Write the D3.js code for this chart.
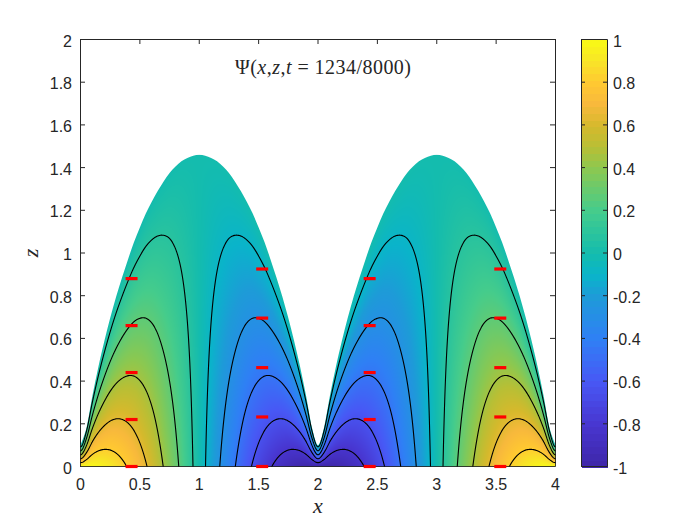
<!DOCTYPE html>
<html>
<head>
<meta charset="utf-8">
<script src="https://cdn.jsdelivr.net/npm/d3@7"></script>
<style>
  body { margin: 0; background: #fff; }
  text { fill: #262626; }
  .tick text { font-family: "Liberation Sans", sans-serif; font-size: 16px; }
  .axis path, .axis line { stroke: #262626; stroke-width: 1px; }
</style>
</head>
<body>
<svg id="chart" width="700" height="525"></svg>
<script>
// tick labels
const xTicks = [0, 0.5, 1, 1.5, 2, 2.5, 3, 3.5, 4]
const zTicks = [0, 0.2, 0.4, 0.6, 0.8, 1, 1.2, 1.4, 1.6, 1.8, 2]
const colorTicks = [-1, -0.8, -0.6, -0.4, -0.2, 0, 0.2, 0.4, 0.6, 0.8, 1]

// colormap
const colorStops = [-1, -0.8, -0.6, -0.4, -0.2, -0.1, 0, 0.1, 0.2, 0.4, 0.5, 0.6, 0.7, 0.8, 0.9, 1]
const colorValues = ['#3e26a8', '#4836d0', '#4858f5', '#2f80f5', '#1e9bd8', '#0ab4ca', '#14bcae', '#2cc49c', '#45cc8c', '#8cc850', '#b8bf35', '#d6b92c', '#f8b93c', '#ffc832', '#f8e428', '#f9fb15']

// top of the domain, z at x = 0, 0.05, ... 4
const surfaceZ = [
  0.10, 0.18, 0.33, 0.465, 0.585, 0.695, 0.795, 0.885, 0.97, 1.05, 1.12, 1.185, 1.24, 1.29, 1.335, 1.375, 1.405, 1.43, 1.445, 1.455,
  1.46, 1.455, 1.445, 1.43, 1.405, 1.375, 1.335, 1.29, 1.24, 1.185, 1.12, 1.05, 0.97, 0.885, 0.795, 0.695, 0.585, 0.465, 0.33, 0.18,
  0.10, 0.18, 0.33, 0.465, 0.585, 0.695, 0.795, 0.885, 0.97, 1.05, 1.12, 1.185, 1.24, 1.29, 1.335, 1.375, 1.405, 1.43, 1.445, 1.455,
  1.46, 1.455, 1.445, 1.43, 1.405, 1.375, 1.335, 1.29, 1.24, 1.185, 1.12, 1.05, 0.97, 0.885, 0.795, 0.695, 0.585, 0.465, 0.33, 0.18,
  0.10
]

// field values at x = 0, 0.1, ... 4, on the floor, half way up and at the surface
const psiFloor = [
  1, 0.99, 0.95, 0.89, 0.81, 0.71, 0.59, 0.45, 0.31, 0.16, 0,
  -0.16, -0.31, -0.45, -0.59, -0.71, -0.81, -0.89, -0.95, -0.99, -1,
  -0.99, -0.95, -0.89, -0.81, -0.71, -0.59, -0.45, -0.31, -0.16, 0,
  0.16, 0.31, 0.45, 0.59, 0.71, 0.81, 0.89, 0.95, 0.99, 1
]
const psiMiddle = [
  0.5, 0.495, 0.475, 0.445, 0.405, 0.355, 0.295, 0.225, 0.155, 0.08, 0,
  -0.08, -0.155, -0.225, -0.295, -0.355, -0.405, -0.445, -0.475, -0.495, -0.5,
  -0.495, -0.475, -0.445, -0.405, -0.355, -0.295, -0.225, -0.155, -0.08, 0,
  0.08, 0.155, 0.225, 0.295, 0.355, 0.405, 0.445, 0.475, 0.495, 0.5
]
const psiSurface = [
  0, 0, 0, 0, 0, 0, 0, 0, 0, 0, 0,
  0, 0, 0, 0, 0, 0, 0, 0, 0, 0,
  0, 0, 0, 0, 0, 0, 0, 0, 0, 0,
  0, 0, 0, 0, 0, 0, 0, 0, 0, 0
]
const contourLevels = [0.085, 0.27, 0.455, 0.64, 0.82]

// red markers
const markerColumns = [0.43, 1.53, 2.435, 3.535]
const markerRowsA = [0.88, 0.66, 0.44, 0.22, 0]
const markerRowsB = [0.925, 0.695, 0.463, 0.232, 0]

const svg = d3.select('#chart')
const x = d3.scaleLinear().domain([0, 4]).range([80, 555])
const y = d3.scaleLinear().domain([0, 2]).range([466, 39])
const color = d3.scaleLinear().domain(colorStops).range(colorValues)

// catmull-rom through a table with uniform spacing, reflected at both ends
function sampleTable(table, step, xv) {
  const last = table.length - 1
  const at = i => table[i < 0 ? -i : i > last ? 2 * last - i : i]
  const pos = Math.max(0, Math.min(last - 1e-9, xv / step))
  const i = Math.floor(pos), t = pos - i
  const a = at(i - 1), b = at(i), c = at(i + 1), d = at(i + 2)
  return 0.5 * (2 * b + (c - a) * t + (2 * a - 5 * b + 4 * c - d) * t * t + (3 * b - a - 3 * c + d) * t * t * t)
}

function psiAt(xv, zv) {
  if (xv < 0) xv = -xv
  if (xv > 4) xv = 8 - xv
  const s = zv / sampleTable(surfaceZ, 0.05, xv)
  const f = sampleTable(psiFloor, 0.1, xv)
  const m = sampleTable(psiMiddle, 0.1, xv)
  const t = sampleTable(psiSurface, 0.1, xv)
  if (s >= 1) return t
  if (s >= 0.5) return m + (t - m) * (s - 0.5) * 2
  return f + (m - f) * s * 2 // also runs on below the floor, for the contour grid
}

// axes go under the field, like the figure
function axis(gen, dx, dy, labels) {
  const g = svg.append('g').attr('class', 'axis').attr('transform', `translate(${dx},${dy})`).call(gen)
  if (!labels) g.selectAll('text').remove()
  return g
}
axis(d3.axisLeft(y).tickValues(zTicks).tickFormat(String).tickSizeInner(-5).tickSizeOuter(0).tickPadding(8), 80, 0, true)
  .selectAll('text').attr('dy', '0.44em')
axis(d3.axisRight(y).tickValues(zTicks).tickSizeInner(-5).tickSizeOuter(0), 555, 0, false)
axis(d3.axisTop(x).tickValues(xTicks).tickSizeInner(-5).tickSizeOuter(0), 0, 39, false)
axis(d3.axisBottom(x).tickValues(xTicks).tickFormat(String).tickSizeInner(-5).tickSizeOuter(0).tickPadding(13), 0, 466, true)

const plot = svg.append('g').attr('transform', 'translate(0.5,0.5)')

// field painted to a canvas, then masked with the surface curve
const imgW = x(4) - x(0), imgH = y(0) - y(2)
const canvas = document.createElement('canvas')
canvas.width = imgW
canvas.height = imgH
const ctx = canvas.getContext('2d')
const img = ctx.createImageData(imgW, imgH)
for (let j = 0; j < imgH; j++) {
  const zv = y.invert(y(2) + j + 0.5)
  for (let i = 0; i < imgW; i++) {
    const c = d3.rgb(color(psiAt(x.invert(x(0) + i + 0.5), zv)))
    const k = (j * imgW + i) * 4
    img.data[k] = c.r; img.data[k + 1] = c.g; img.data[k + 2] = c.b; img.data[k + 3] = 255
  }
}
ctx.putImageData(img, 0, 0)

const surfaceArea = d3.area()
  .x((d, i) => x(i * 0.05))
  .y0(y(0))
  .y1(d => y(d))
  .curve(d3.curveCatmullRom.alpha(0))
svg.append('clipPath').attr('id', 'surface-clip').append('path').attr('d', surfaceArea(surfaceZ))
svg.append('clipPath').attr('id', 'axes-clip').append('rect')
  .attr('x', x(0)).attr('y', y(2)).attr('width', imgW).attr('height', imgH)

plot.append('image')
  .attr('href', canvas.toDataURL())
  .attr('x', x(0)).attr('y', y(2)).attr('width', imgW).attr('height', imgH)
  .attr('clip-path', 'url(#surface-clip)')

// contour lines on a one pixel grid that runs a little past the axes
const gridPad = 12, gridTop = 1.6
const gridW = imgW + 2 * gridPad
const gridH = Math.round(y(0) - y(gridTop)) + gridPad
const gridPsi = new Float64Array(gridW * gridH)
for (let j = 0; j < gridH; j++) {
  const zv = y.invert(y(gridTop) + j)
  for (let i = 0; i < gridW; i++) gridPsi[j * gridW + i] = psiAt(x.invert(x(0) - gridPad + i), zv)
}
const gridPath = d3.geoPath(d3.geoTransform({
  point(px, py) { this.stream.point(x(0) - gridPad + px - 0.5, y(gridTop) + py - 0.5) }
}))
const contourGen = d3.contours().size([gridW, gridH]).thresholds(contourLevels)
const lines = plot.append('g').attr('clip-path', 'url(#axes-clip)')
  .attr('fill', 'none').attr('stroke', '#000').attr('stroke-width', 1.1)
lines.selectAll('path.pos').data(contourGen(gridPsi)).join('path').attr('class', 'pos').attr('d', gridPath)
lines.selectAll('path.neg').data(contourGen(gridPsi.map(v => -v))).join('path').attr('class', 'neg').attr('d', gridPath)

// markers
markerColumns.forEach((mx, c) => {
  plot.append('g').selectAll('line')
    .data(c % 2 ? markerRowsB : markerRowsA)
    .join('line')
    .attr('x1', x(mx) - 6).attr('x2', x(mx) + 6)
    .attr('y1', d => y(d)).attr('y2', d => y(d))
    .attr('stroke', '#f00').attr('stroke-width', 3.2)
})

// colorbar
const barX = 581, barW = 26
const barSteps = d3.range(64)
const barY = d3.scaleBand().domain(barSteps).range([y(0), y(2)])
svg.append('g').attr('transform', 'translate(0.5,0.5)').attr('shape-rendering', 'crispEdges').selectAll('rect')
  .data(barSteps)
  .join('rect')
  .attr('x', barX).attr('width', barW)
  .attr('y', d => barY(d)).attr('height', barY.bandwidth() + 1)
  .attr('fill', d => color(-1 + (d + 0.5) / 32))
const cbar = d3.scaleLinear().domain([-1, 1]).range([466, 39])
axis(d3.axisLeft(cbar).tickValues(colorTicks).tickSizeInner(-4).tickSizeOuter(0), barX, 0, false)
axis(d3.axisTop(d3.scaleLinear().range([barX, barX + barW])).tickValues([]).tickSizeOuter(0), 0, 39, false)
axis(d3.axisBottom(d3.scaleLinear().range([barX, barX + barW])).tickValues([]).tickSizeOuter(0), 0, 466, false)
axis(d3.axisRight(cbar).tickValues(colorTicks).tickFormat(String).tickSizeInner(-4).tickSizeOuter(0).tickPadding(6), barX + barW, 0, true)
  .selectAll('text').attr('dy', '0.44em')

// labels
const serif = '"Liberation Serif", serif'
svg.append('text').attr('x', 318).attr('y', 513).attr('text-anchor', 'middle')
  .attr('font-family', serif).attr('font-style', 'italic').attr('font-size', 22).text('x')
svg.append('text').attr('transform', 'translate(37.5,253) rotate(-90)').attr('text-anchor', 'middle')
  .attr('font-family', serif).attr('font-style', 'italic').attr('font-size', 22).text('z')

const title = svg.append('text').attr('x', 235).attr('y', 74.3).attr('font-family', serif).attr('font-size', 20)
  .attr('textLength', 176)
const titleParts = [['Ψ(', false], ['x', true], [',', false], ['z', true], [',', false], ['t', true], [' = 1234/8000)', false]]
titleParts.forEach(([s, it]) => title.append('tspan').attr('font-style', it ? 'italic' : 'normal').text(s))
</script>
</body>
</html>
